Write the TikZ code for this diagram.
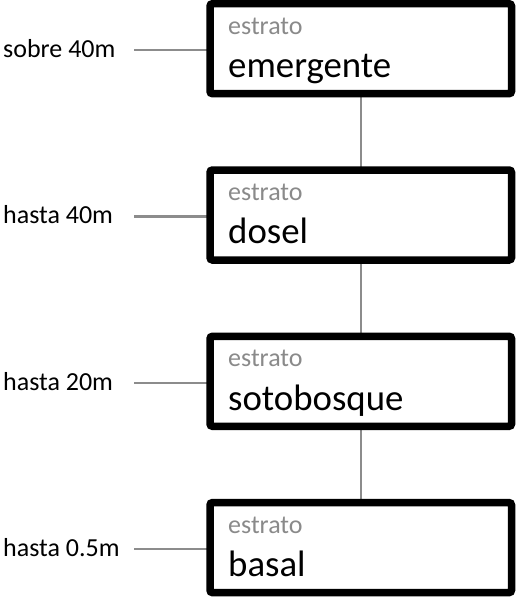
\documentclass[tikz,border=0pt]{standalone}
\usepackage{fontspec}
\setmainfont{Carlito}
\usetikzlibrary{backgrounds}
\definecolor{linegray}{HTML}{8C8C8C}
\definecolor{textgray}{HTML}{8A8A8A}
\begin{document}
\begin{tikzpicture}[x=1pt,y=-1pt,
  box/.style={draw=black,line width=7.5pt,rounded corners=2.5pt,fill=white,minimum width=301.5pt,minimum height=90pt,inner sep=0pt,outer sep=0pt},
  toptext/.style={anchor=base west,inner sep=0pt,text=textgray,font=\fontsize{26}{30}\selectfont},
  maintext/.style={anchor=base west,inner sep=0pt,text=black,font=\fontsize{36.8}{42}\selectfont},
  sidelabel/.style={anchor=base west,inner sep=0pt,text=black,font=\fontsize{26}{30}\selectfont},
  conn/.style={draw=linegray,line width=2.5pt}]
\useasboundingbox (0,0) rectangle (516,598);
% boxes
\node[box] (b1) at (360.75,48.7) {};
\node[box] (b2) at (360.75,215.0) {};
\node[box] (b3) at (360.75,381.3) {};
\node[box] (b4) at (360.75,547.6) {};
% texts in boxes
\node[toptext] (e1) at ([shift={(18,30.5)}]b1.north west) {estrato};
\node[maintext] (m1) at ([shift={(18,73.8)}]b1.north west) {emergente};
\node[toptext] (e2) at ([shift={(18,30.5)}]b2.north west) {estrato};
\node[maintext] (m2) at ([shift={(18,73.8)}]b2.north west) {dosel};
\node[toptext] (e3) at ([shift={(18,30.5)}]b3.north west) {estrato};
\node[maintext] (m3) at ([shift={(18,73.8)}]b3.north west) {sotobosque};
\node[toptext] (e4) at ([shift={(18,30.5)}]b4.north west) {estrato};
\node[maintext] (m4) at ([shift={(18,73.8)}]b4.north west) {basal};
% side labels
\node[sidelabel] (s1) at (3,57.5) {sobre 40m};
\node[sidelabel] (s2) at (3,223.8) {hasta 40m};
\node[sidelabel] (s3) at (3,390.1) {hasta 20m};
\node[sidelabel] (s4) at (3,556.4) {hasta 0.5m};
\coordinate (c1) at (134,50.2);
\coordinate (c2) at (134,216.5);
\coordinate (c3) at (134,382.8);
\coordinate (c4) at (134,549.1);
\begin{scope}[on background layer]
\draw[conn] (b1.south) -- (b2.north);
\draw[conn] (b2.south) -- (b3.north);
\draw[conn] (b3.south) -- (b4.north);
\draw[conn] (c1) -- (c1 -| b1.west);
\draw[conn] (c2) -- (c2 -| b2.west);
\draw[conn] (c3) -- (c3 -| b3.west);
\draw[conn] (c4) -- (c4 -| b4.west);
\end{scope}
\end{tikzpicture}
\end{document}
